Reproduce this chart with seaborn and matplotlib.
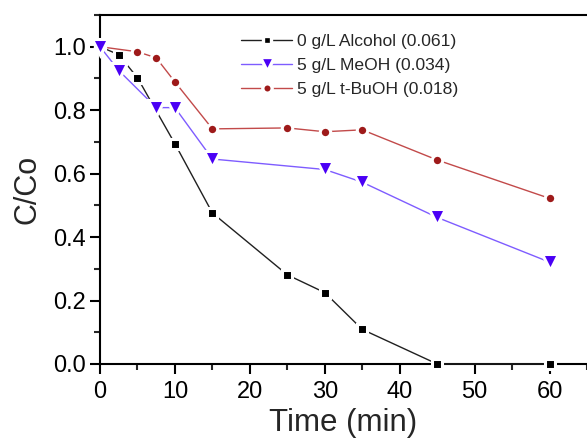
import numpy as np
import pandas as pd
import seaborn as sns
import matplotlib
matplotlib.use("Agg")
import matplotlib.pyplot as plt
from matplotlib.ticker import MultipleLocator, FormatStrFormatter
from matplotlib.lines import Line2D

# Degradation kinetics with/without radical scavengers
time_alcohol = [0, 2.5, 5, 10, 15, 25, 30, 35, 45, 60]
c_alcohol = [1.0, 0.975, 0.902, 0.694, 0.476, 0.281, 0.225, 0.109, 0.0, 0.0]

time_meoh = [0, 2.5, 7.5, 10, 15, 30, 35, 45, 60]
c_meoh = [1.0, 0.925, 0.808, 0.808, 0.646, 0.613, 0.573, 0.462, 0.321]

time_tbuoh = [0, 5, 7.5, 10, 15, 25, 30, 35, 45, 60]
c_tbuoh = [1.0, 0.984, 0.965, 0.889, 0.741, 0.744, 0.732, 0.738, 0.643, 0.522]

series_names = ["0 g/L Alcohol (0.061)", "5 g/L MeOH (0.034)", "5 g/L t-BuOH (0.018)"]

df = pd.concat([
    pd.DataFrame({"Time": time_alcohol, "C": c_alcohol, "series": series_names[0]}),
    pd.DataFrame({"Time": time_meoh, "C": c_meoh, "series": series_names[1]}),
    pd.DataFrame({"Time": time_tbuoh, "C": c_tbuoh, "series": series_names[2]}),
], ignore_index=True)

sns.set_style("ticks")
plt.rcParams["font.family"] = ["Liberation Sans", "DejaVu Sans"]

line_colors = ["#202020", "#7E5CFF", "#C24A4A"]
marker_colors = ["#000000", "#4A00F5", "#9E1A1A"]
markers = ["s", "v", "o"]
msizes = [6.5, 11, 7.5]
zorders = [3, 5, 4]

fig = plt.figure(figsize=(5.87, 4.38), dpi=100)
ax = fig.add_axes([0.1704, 0.169, 0.8296, 0.7968])

handles = []
for name, lc, mc, mk, ms, zo in zip(series_names, line_colors, marker_colors,
                                    markers, msizes, zorders):
    sub = df[df["series"] == name]
    sns.lineplot(data=sub, x="Time", y="C", ax=ax, color=lc, linewidth=1.0,
                 marker=mk, markersize=ms, markerfacecolor=mc,
                 markeredgecolor="white", markeredgewidth=2.2,
                 clip_on=False, zorder=zo, legend=False)
    handles.append(Line2D([], [], color=lc, linewidth=1.0, marker=mk,
                          markersize=ms * 0.9, markerfacecolor=mc,
                          markeredgecolor="white", markeredgewidth=2.4))

ax.set_xlim(0, 65)
ax.set_ylim(0, 1.1)
ax.xaxis.set_major_locator(MultipleLocator(10))
ax.xaxis.set_minor_locator(MultipleLocator(5))
ax.yaxis.set_major_locator(MultipleLocator(0.2))
ax.yaxis.set_minor_locator(MultipleLocator(0.1))
ax.yaxis.set_major_formatter(FormatStrFormatter("%.1f"))

for side in ["left", "bottom", "top"]:
    ax.spines[side].set_linewidth(1.5)
    ax.spines[side].set_color("black")
ax.spines["right"].set_visible(False)

ax.tick_params(axis="both", which="major", direction="out", length=7, width=1.5,
               labelsize=17, colors="black", pad=3)
ax.tick_params(axis="x", which="major", pad=5)
ax.tick_params(axis="both", which="minor", direction="out", length=4, width=1.5)
ax.tick_params(axis="both", which="both", top=False, right=False)

ax.set_xlabel("Time (min)", fontsize=22.5, labelpad=4)
ax.set_ylabel("C/Co", fontsize=22, labelpad=8)

ax.legend(handles=handles, labels=series_names, loc="upper left",
          bbox_to_anchor=(0.265, 0.98), frameon=False, fontsize=12.6,
          handlelength=2.9, handletextpad=0.3, labelspacing=0.5,
          borderaxespad=0.3)

fig.savefig("out.png", dpi=100)
